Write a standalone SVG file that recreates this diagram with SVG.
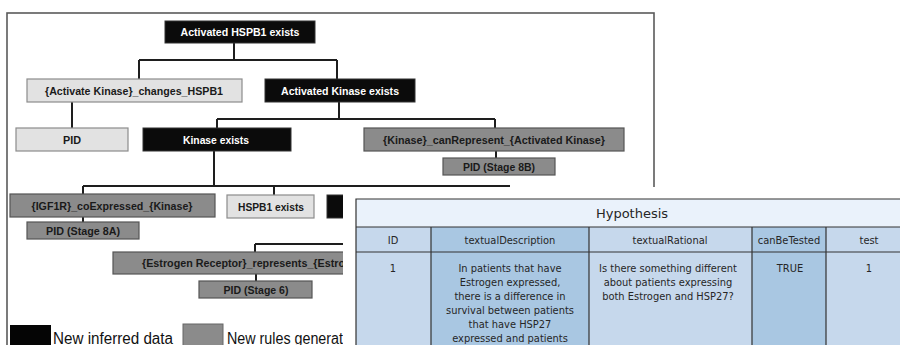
<svg xmlns="http://www.w3.org/2000/svg" width="900" height="345" viewBox="0 0 900 345">
<style>
.blk{fill:#0b0b0b;stroke:#333;stroke-width:1}
.lt{fill:#e2e2e2;stroke:#8c8c8c;stroke-width:1.2}
.dk{fill:#8b8b8b;stroke:#555;stroke-width:1.2}
.t{font-family:"Liberation Sans",Arial,sans-serif;font-weight:bold;font-size:11px;text-anchor:middle}
.tw{fill:#ffffff}
.tb{fill:#1a1a1a}
.con{fill:none;stroke:#1e1e1e;stroke-width:2}
.leg{font-family:"Liberation Sans",Arial,sans-serif;font-size:16px;fill:#111}
.tl{fill:#c6d8ec}
.td{fill:#a9c7e2}
.tg{fill:none;stroke:#333;stroke-width:1.2}
.tx{font-family:"DejaVu Sans",Verdana,sans-serif;font-size:9.9px;fill:#262626;text-anchor:middle}
</style>
<rect x="0" y="0" width="900" height="345" fill="#ffffff"/>
<rect id="frame" x="7" y="13" width="647" height="345" fill="none" stroke="#5a5a5a" stroke-width="1.6"/>
<g id="connectors">
<path class="con" d="M234 43V60M139 60H337M139 60V79M337 60V79"/>
<path class="con" d="M72 102V128"/>
<path class="con" d="M339 102V119M217 119H495M217 119V128M495 119V128"/>
<path class="con" d="M496 151V158" stroke-width="1.6"/>
<path class="con" d="M214 151V186M83 186H510M83 186V194M274 186V195"/>
<path class="con" d="M83 217V222" stroke-width="1.6"/>
<path class="con" d="M255 244H350M255 244V252"/>
<path class="con" d="M256 274V281" stroke-width="1.6"/>
</g>
<g id="n1"><rect class="blk" x="165" y="21" width="150" height="22"/><text class="t tw" x="240" y="36" textLength="119" lengthAdjust="spacingAndGlyphs">Activated HSPB1 exists</text></g>
<g id="n2"><rect class="lt" x="27" y="79" width="215" height="23"/><text class="t tb" x="134" y="94.8" textLength="178" lengthAdjust="spacingAndGlyphs">{Activate Kinase}_changes_HSPB1</text></g>
<g id="n3"><rect class="blk" x="265" y="79" width="150" height="23"/><text class="t tw" x="340" y="94.8" textLength="118" lengthAdjust="spacingAndGlyphs">Activated Kinase exists</text></g>
<g id="n4"><rect class="lt" x="16" y="128" width="112" height="23"/><text class="t tb" x="72" y="143.8" textLength="18" lengthAdjust="spacingAndGlyphs">PID</text></g>
<g id="n5"><rect class="blk" x="143" y="128" width="148" height="23"/><text class="t tw" x="216" y="143.8" textLength="66" lengthAdjust="spacingAndGlyphs">Kinase exists</text></g>
<g id="n6"><rect class="dk" x="364" y="128" width="260" height="23"/><text class="t tb" x="494" y="143.8" textLength="222" lengthAdjust="spacingAndGlyphs">{Kinase}_canRepresent_{Activated Kinase}</text></g>
<g id="n7"><rect class="dk" x="443" y="158" width="112" height="17"/><text class="t tb" x="499" y="170.7" textLength="72" lengthAdjust="spacingAndGlyphs">PID (Stage 8B)</text></g>
<g id="n8"><rect class="dk" x="10" y="194" width="205" height="23"/><text class="t tb" x="112" y="209.8" textLength="161" lengthAdjust="spacingAndGlyphs">{IGF1R}_coExpressed_{Kinase}</text></g>
<g id="n9"><rect class="lt" x="227" y="195" width="87" height="23"/><text class="t tb" x="271" y="210.8" textLength="66" lengthAdjust="spacingAndGlyphs">HSPB1 exists</text></g>
<g id="n10"><rect class="blk" x="327" y="195" width="40" height="23"/></g>
<g id="n11"><rect class="dk" x="27" y="222" width="112" height="17"/><text class="t tb" x="83" y="234.7" textLength="74" lengthAdjust="spacingAndGlyphs">PID (Stage 8A)</text></g>
<g id="n12"><rect class="dk" x="113" y="252" width="284" height="22"/><text class="t tb" x="142" y="267" style="text-anchor:start" textLength="203" lengthAdjust="spacingAndGlyphs">{Estrogen Receptor}_represents_{Estro</text></g>
<g id="n13"><rect class="dk" x="199" y="281" width="113" height="17"/><text class="t tb" x="256" y="293.7" textLength="65" lengthAdjust="spacingAndGlyphs">PID (Stage 6)</text></g>
<g id="legend">
<rect x="10" y="325" width="41" height="25" fill="#050505"/>
<text class="leg" x="53" y="343.5" textLength="120" lengthAdjust="spacingAndGlyphs">New inferred data</text>
<rect x="183" y="324" width="40" height="26" fill="#8b8b8b" stroke="#666" stroke-width="1"/>
<text class="leg" x="227" y="343.5" textLength="116" lengthAdjust="spacingAndGlyphs">New rules generat</text>
</g>
<rect id="overlay" x="343" y="187" width="557" height="158" fill="#ffffff"/>
<g id="table">
<rect x="356" y="199" width="560" height="28" fill="#eaf2fb"/>
<rect class="tl" x="356" y="227" width="75" height="130"/>
<rect class="td" x="431" y="227" width="158" height="130"/>
<rect class="tl" x="589" y="227" width="163" height="130"/>
<rect class="td" x="752" y="227" width="74" height="130"/>
<rect class="tl" x="826" y="227" width="90" height="130"/>
<path class="tg" d="M356 360V199H916M356 227H916M356 252H916M431 227V360M589 227V360M752 227V360M826 227V360" stroke="#555"/>
<text class="tx" x="632" y="218" style="font-size:13px">Hypothesis</text>
<text class="tx" x="393" y="243.5">ID</text>
<text class="tx" x="510" y="243.5">textualDescription</text>
<text class="tx" x="670" y="243.5">textualRational</text>
<text class="tx" x="789" y="243.5">canBeTested</text>
<text class="tx" x="869" y="243.5">test</text>
<text class="tx" x="393" y="272">1</text>
<text class="tx" x="510" y="272">In patients that have</text>
<text class="tx" x="510" y="286">Estrogen expressed,</text>
<text class="tx" x="510" y="300">there is a difference in</text>
<text class="tx" x="510" y="314">survival between patients</text>
<text class="tx" x="510" y="328">that have HSP27</text>
<text class="tx" x="510" y="342">expressed and patients</text>
<text class="tx" x="668" y="272">Is there something different</text>
<text class="tx" x="668" y="286">about patients expressing</text>
<text class="tx" x="668" y="300">both Estrogen and HSP27?</text>
<text class="tx" x="790" y="272">TRUE</text>
<text class="tx" x="869" y="272">1</text>
</g>
</svg>
